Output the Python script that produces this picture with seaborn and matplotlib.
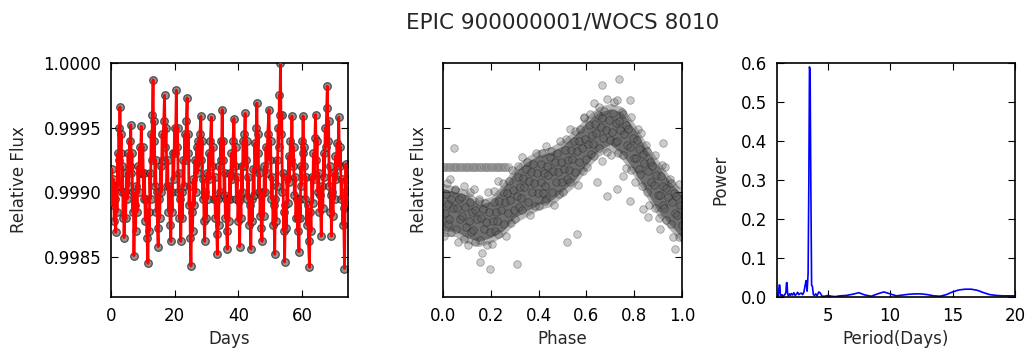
import numpy as np
import pandas as pd
import matplotlib
matplotlib.use("Agg")
import matplotlib.pyplot as plt
import seaborn as sns

# ---------------- data ----------------
title = "EPIC 900000001/WOCS 8010"

# light curve: time (days) and relative flux in units of 1e-5
days = [
    0.0, 0.25, 0.5, 0.75, 1.0, 1.25, 1.5,
    1.7, 1.9, 2.1, 2.3, 2.5, 2.65, 2.8,
    3.0, 3.2, 3.4, 3.6, 3.8, 3.95, 4.1,
    4.35, 4.6, 4.85, 5.1, 5.35, 5.6, 5.85, 6.0, 6.2,
    6.4, 6.6, 6.8, 7.0, 7.2,
    7.45, 7.7, 7.95, 8.2, 8.45, 8.7, 8.95, 9.2, 9.5,
    9.75, 10.0, 10.25, 10.5, 10.75, 11.0, 11.3, 11.6,
    11.8, 12.0, 12.2, 12.4, 12.6, 12.8, 13.0, 13.2,
    13.4, 13.6, 13.8, 14.0, 14.2, 14.4, 14.6, 14.8,
    15.05, 15.3, 15.55, 15.8, 16.05, 16.3, 16.55, 16.8,
    17.05, 17.3, 17.55, 17.8, 18.05, 18.3, 18.55, 18.8,
    19.0, 19.2, 19.45, 19.7, 19.95, 20.2, 20.5,
    20.7, 20.9, 21.1, 21.3, 21.5, 21.7, 21.9,
    22.15, 22.4, 22.65, 22.9, 23.15, 23.4, 23.65, 23.9,
    24.1, 24.3, 24.5, 24.7, 24.9, 25.1,
    25.35, 25.6, 25.85, 26.1, 26.35, 26.6, 26.85, 27.1, 27.35, 27.6, 27.9, 28.2,
    28.4, 28.6, 28.8, 29.0, 29.2, 29.4,
    29.65, 29.9, 30.15, 30.4, 30.65, 30.9, 31.2, 31.5,
    31.75, 32.0, 32.25, 32.5, 32.75, 33.0, 33.2, 33.4,
    33.6, 33.8, 34.0, 34.2, 34.45, 34.65, 34.9,
    35.1, 35.3, 35.5, 35.7, 35.9, 36.1, 36.3, 36.5,
    36.75, 37.0, 37.25, 37.5, 37.75, 38.0, 38.3, 38.6,
    38.85, 39.1, 39.35, 39.6, 39.85, 40.1, 40.4,
    40.6, 40.8, 41.0, 41.2, 41.45, 41.7, 41.9, 42.1,
    42.35, 42.6, 42.85, 43.1, 43.35, 43.6, 43.9,
    44.15, 44.4, 44.65, 44.9, 45.15, 45.4, 45.6, 45.8,
    46.0, 46.2, 46.4, 46.6, 46.8, 47.0, 47.2, 47.4,
    47.65, 47.9, 48.15, 48.4, 48.65, 48.9, 49.2, 49.6,
    49.85, 50.1, 50.35, 50.6, 50.85, 51.1, 51.4,
    51.6, 51.8, 52.0, 52.2, 52.45, 52.65, 52.85, 53.0, 53.2,
    53.4, 53.6, 53.8, 54.0, 54.2, 54.35, 54.5,
    54.75, 55.0, 55.25, 55.5, 55.75, 56.0, 56.3, 56.55, 56.8,
    57.05, 57.3, 57.55, 57.8, 58.05, 58.3, 58.55, 58.8, 59.0,
    59.2, 59.4, 59.6, 59.8, 60.0, 60.15, 60.3,
    60.5, 60.7, 60.95, 61.2, 61.45, 61.7, 62.0, 62.3,
    62.55, 62.8, 63.05, 63.3, 63.55, 63.8, 64.0, 64.2,
    64.45, 64.7, 64.95, 65.2, 65.45, 65.7, 66.0,
    66.25, 66.5, 66.75, 67.0, 67.25, 67.5, 67.7, 67.9,
    68.1, 68.3, 68.5, 68.7, 68.9, 69.05, 69.2,
    69.45, 69.7, 69.95, 70.2, 70.45, 70.7, 70.95, 71.2, 71.5,
    71.75, 72.0, 72.25, 72.5, 72.75, 73.0, 73.3,
    73.55, 73.75, 74.0, 74.2, 74.4]
flux_e5 = [
    99898, 99918, 99890, 99910, 99878, 99895, 99869,
    99905, 99885, 99930, 99905, 99950, 99925, 99966,
    99930, 99945, 99900, 99920, 99880, 99900, 99865,
    99900, 99880, 99915, 99895, 99930, 99905, 99940, 99920, 99952,
    99915, 99930, 99885, 99900, 99851,
    99890, 99870, 99905, 99885, 99920, 99900, 99935, 99915, 99951,
    99915, 99935, 99895, 99915, 99878, 99895, 99865, 99845,
    99885, 99870, 99915, 99895, 99945, 99925, 99960, 99987,
    99940, 99955, 99905, 99925, 99885, 99900, 99872, 99858,
    99895, 99880, 99920, 99900, 99945, 99925, 99955, 99975,
    99935, 99950, 99905, 99925, 99885, 99905, 99875, 99862,
    99900, 99885, 99930, 99910, 99950, 99930, 99979,
    99935, 99950, 99900, 99915, 99880, 99895, 99862,
    99900, 99880, 99925, 99905, 99945, 99925, 99955, 99973,
    99930, 99945, 99890, 99905, 99865, 99843,
    99885, 99870, 99910, 99890, 99925, 99900, 99935, 99915, 99940, 99920, 99945, 99959,
    99925, 99940, 99895, 99910, 99878, 99862,
    99900, 99880, 99915, 99895, 99930, 99910, 99940, 99958,
    99920, 99935, 99895, 99912, 99880, 99895, 99868, 99852,
    99895, 99875, 99920, 99900, 99940, 99925, 99964,
    99925, 99940, 99898, 99915, 99880, 99895, 99870, 99856,
    99895, 99878, 99915, 99895, 99930, 99910, 99940, 99957,
    99920, 99935, 99895, 99912, 99878, 99893, 99858,
    99898, 99880, 99920, 99900, 99940, 99920, 99945, 99961,
    99925, 99940, 99895, 99912, 99875, 99890, 99856,
    99895, 99878, 99918, 99898, 99938, 99918, 99950, 99969,
    99930, 99945, 99900, 99915, 99882, 99898, 99872, 99862,
    99900, 99882, 99920, 99900, 99935, 99915, 99945, 99964,
    99925, 99940, 99895, 99912, 99875, 99890, 99852,
    99895, 99878, 99925, 99905, 99950, 99935, 99975, 99960, 100000,
    99945, 99960, 99900, 99915, 99870, 99885, 99846,
    99890, 99872, 99912, 99892, 99928, 99908, 99940, 99925, 99959,
    99920, 99935, 99898, 99912, 99880, 99895, 99870, 99880, 99854,
    99895, 99880, 99920, 99905, 99940, 99930, 99959,
    99920, 99935, 99895, 99912, 99875, 99890, 99862, 99842,
    99885, 99870, 99912, 99892, 99930, 99910, 99942, 99960,
    99925, 99940, 99900, 99915, 99885, 99898, 99866,
    99905, 99888, 99930, 99912, 99950, 99935, 99965, 99982,
    99940, 99955, 99905, 99920, 99885, 99898, 99866,
    99900, 99882, 99915, 99895, 99928, 99910, 99938, 99922, 99958,
    99920, 99935, 99895, 99910, 99875, 99888, 99841,
    99900, 99922, 99890, 99910, 99902]

# phase-folded points: phase in thousandths, flux in ppm relative to 0.999
phase_milli = [
    3, 19, 8, 22, 12, 15, 32, 26, 41, 35, 49, 30, 64, 54, 71, 59, 67, 52,
    86, 98, 81, 93, 75, 88, 103, 119, 108, 122, 112, 115, 132, 126, 141, 135, 149, 130,
    164, 154, 171, 159, 167, 152, 186, 198, 181, 193, 175, 188, 203, 219, 208, 222, 212, 215,
    232, 226, 241, 235, 249, 230, 264, 254, 271, 259, 267, 252, 286, 298, 281, 293, 275, 288,
    303, 319, 308, 322, 312, 315, 332, 326, 341, 335, 349, 330, 364, 354, 371, 359, 367, 352,
    386, 398, 381, 393, 375, 388, 403, 419, 408, 422, 412, 415, 432, 426, 441, 435, 449, 430,
    464, 454, 471, 459, 467, 452, 486, 498, 481, 493, 475, 488, 503, 519, 508, 522, 512, 515,
    532, 526, 541, 535, 549, 530, 564, 554, 571, 559, 567, 552, 586, 598, 581, 593, 575, 588,
    603, 619, 608, 622, 612, 615, 632, 626, 641, 635, 649, 630, 664, 654, 671, 659, 667, 652,
    686, 698, 681, 693, 675, 688, 703, 719, 708, 722, 712, 715, 732, 726, 741, 735, 749, 730,
    764, 754, 771, 759, 767, 752, 786, 798, 781, 793, 775, 788, 803, 819, 808, 822, 812, 815,
    832, 826, 841, 835, 849, 830, 864, 854, 871, 859, 867, 852, 886, 898, 881, 893, 875, 888,
    903, 919, 908, 922, 912, 915, 932, 926, 941, 935, 949, 930, 964, 954, 971, 959, 967, 952,
    986, 998, 981, 993, 975, 988,
    47, 197, 155, 308, 517, 559, 427, 590, 664, 738, 782, 685, 727, 782, 859, 922, 971, 838,
    643, 754, 908]
phase_ppm = [
    -342, -242, -162, -92, -17, 68, -304, -209, -124, -54, 16, 106, -386, -286, -206, -121, -51, 29,
    -360, -265, -185, -110, -40, 50, -404, -304, -224, -154, -79, 6, -388, -293, -208, -138, -68, 22,
    -466, -366, -286, -201, -131, -51, -404, -309, -229, -154, -84, 6, -399, -299, -219, -149, -74, 11,
    -320, -225, -140, -70, 0, 90, -342, -242, -162, -77, -7, 73, -234, -139, -59, 16, 86, 176,
    -210, -110, -30, 40, 115, 200, -138, -43, 42, 112, 182, 272, -179, -79, 1, 86, 156, 236,
    -103, -8, 72, 147, 217, 307, -104, -4, 76, 146, 221, 306, -50, 45, 130, 200, 270, 360,
    -98, 2, 82, 167, 237, 317, -15, 80, 160, 235, 305, 395, 1, 101, 181, 251, 326, 411,
    80, 175, 260, 330, 400, 490, 58, 158, 238, 323, 393, 473, 166, 261, 341, 416, 486, 576,
    196, 296, 376, 446, 521, 606, 280, 375, 460, 530, 600, 690, 241, 341, 421, 506, 576, 656,
    310, 405, 485, 560, 630, 720, 288, 388, 468, 538, 613, 698, 304, 399, 484, 554, 624, 714,
    189, 289, 369, 454, 524, 604, 173, 268, 348, 423, 493, 583, 82, 182, 262, 332, 407, 492,
    45, 140, 225, 295, 365, 455, -98, 2, 82, 167, 237, 317, -118, -23, 57, 132, 202, 292,
    -201, -101, -21, 49, 124, 209, -218, -123, -38, 32, 102, 192, -344, -244, -164, -79, -9, 71,
    -348, -253, -173, -98, -28, 62,
    346, -592, -538, -554, -385, -323, -69, 585, 831, 877, 715, -31, 23, -69, -192, 385, -438, -131,
    77, 123, -285]

# dense core of the phase cloud (phase in thousandths, ppm relative to 0.999)
core_milli = [0, 50, 100, 150, 200, 250, 300, 350, 400, 450, 500,
              550, 600, 650, 700, 750, 800, 850, 900, 950, 1000]
outer_hi = [70, 44, 19, -59, -33, 70, 199, 276, 328, 353, 405, 482, 585, 662, 688, 662, 534, 379, 250, 121, 19]
outer_lo = [-342, -342, -393, -420, -393, -342, -239, -188, -136, -110, -33, 44, 173, 276, 328, 250, 121, -33, -188, -291, -393]
inner_hi = [30, 5, -20, -95, -70, 30, 155, 235, 285, 310, 360, 440, 540, 620, 645, 620, 490, 335, 205, 80, -20]
inner_lo = [-300, -300, -350, -380, -350, -300, -195, -145, -95, -70, 10, 90, 215, 320, 370, 295, 165, 10, -145, -250, -350]

# flat strip of points seen at the start of the phase plot
strip_milli = [0, 10, 20, 30, 40, 50, 60, 70, 80, 90, 100, 110, 120, 130, 140,
               150, 160, 170, 180, 190, 200, 210, 220, 230, 240, 250, 260, 270]
strip_ppm = [192] * len(strip_milli)

# periodogram (period in days, power)
period = [0.95, 0.99, 1.03, 1.08, 1.13, 1.18, 1.22, 1.28, 1.35, 1.42, 1.50, 1.58, 1.66,
          1.71, 1.75, 1.80, 1.86, 1.94, 2.02, 2.10, 2.20, 2.30, 2.40, 2.50, 2.60, 2.70,
          2.80, 2.90, 3.00, 3.10, 3.20, 3.28, 3.36, 3.44, 3.50, 3.55, 3.60, 3.66, 3.72,
          3.78, 3.86, 3.95, 4.05, 4.15, 4.30, 4.42, 4.55, 4.8, 5.0, 5.3, 5.6, 6.0, 6.5,
          7.0, 7.5, 8.0, 8.5, 9.0, 9.5, 10.0, 10.5, 11.0, 11.5, 12.0, 12.5, 13.0, 13.5,
          14.0, 14.5, 15.0, 15.5, 16.0, 16.5, 17.0, 17.5, 18.0, 18.5, 19.0, 20.0]
power = [0.002, 0.004, 0.003, 0.012, 0.031, 0.030, 0.004, 0.003, 0.006, 0.002, 0.004,
         0.006, 0.012, 0.036, 0.037, 0.008, 0.003, 0.008, 0.004, 0.009, 0.005, 0.011,
         0.004, 0.007, 0.012, 0.006, 0.009, 0.010, 0.006, 0.012, 0.030, 0.042, 0.015,
         0.060, 0.300, 0.590, 0.580, 0.280, 0.030, 0.028, 0.006, 0.004, 0.008, 0.003,
         0.013, 0.010, 0.002, 0.002, 0.004, 0.002, 0.001, 0.003, 0.004, 0.007, 0.011,
         0.005, 0.002, 0.008, 0.013, 0.008, 0.003, 0.005, 0.007, 0.008, 0.008, 0.006,
         0.003, 0.002, 0.006, 0.013, 0.018, 0.020, 0.020, 0.017, 0.011, 0.006, 0.004,
         0.003, 0.003]

# ---------------- style ----------------
sns.set_style("ticks")
plt.rcParams.update({
    "font.family": ["DejaVu Sans"],
    "font.size": 12,
    "xtick.direction": "in", "ytick.direction": "in",
    "xtick.top": True, "ytick.right": True,
    "xtick.major.size": 5, "ytick.major.size": 5,
    "xtick.major.width": 0.8, "ytick.major.width": 0.8,
    "xtick.major.pad": 7, "ytick.major.pad": 7,
    "axes.linewidth": 1.2, "axes.edgecolor": "black",
    "xtick.color": "black", "ytick.color": "black",
    "xtick.labelsize": 12, "ytick.labelsize": 12, "axes.labelsize": 12,
})

fig = plt.figure(figsize=(10.28, 3.52), dpi=100)
W, H = 1028.0, 352.0
ax1 = fig.add_axes([111 / W, (H - 297) / H, 237 / W, 234 / H])
ax2 = fig.add_axes([443 / W, (H - 297) / H, 239 / W, 234 / H])
ax3 = fig.add_axes([777 / W, (H - 297) / H, 238 / W, 234 / H])

# ---- panel 1: light curve ----
lc = pd.DataFrame({"Days": days, "Flux": np.array(flux_e5) / 1e5})
sns.scatterplot(data=lc, x="Days", y="Flux", ax=ax1, color="0.4", edgecolor="0.1",
                linewidth=0.9, s=30, alpha=0.7, zorder=2)
sns.lineplot(data=lc, x="Days", y="Flux", ax=ax1, color="red", lw=2.0, sort=False,
             estimator=None, zorder=3)
ax1.set_xlim(0, 74.4)
ax1.set_ylim(0.99819, 1.0)
ax1.set_yticks([0.9985, 0.9990, 0.9995, 1.0000])
ax1.set_yticklabels(["0.9985", "0.9990", "0.9995", "1.0000"])
ax1.set_xticks([0, 20, 40, 60])
ax1.set_xlabel("Days")
ax1.set_ylabel("Relative Flux", labelpad=11)

# ---- panel 2: phase-folded ----
cph = np.array(core_milli) / 1000.0
ax2.fill_between(cph, 0.999 + np.array(outer_lo) * 1e-6, 0.999 + np.array(outer_hi) * 1e-6,
                 color="0.3", alpha=0.4, lw=0)
ax2.fill_between(cph, 0.999 + np.array(inner_lo) * 1e-6, 0.999 + np.array(inner_hi) * 1e-6,
                 color="0.25", alpha=0.6, lw=0)
ph = pd.DataFrame({"Phase": np.array(phase_milli) / 1000.0,
                   "Flux": 0.999 + np.array(phase_ppm) * 1e-6})
st = pd.DataFrame({"Phase": np.array(strip_milli) / 1000.0,
                   "Flux": 0.999 + np.array(strip_ppm) * 1e-6})
sns.scatterplot(data=st, x="Phase", y="Flux", ax=ax2, color="0.5", edgecolor="0.4",
                linewidth=0.6, s=34, alpha=0.4)
sns.scatterplot(data=ph, x="Phase", y="Flux", ax=ax2, color="0.35", edgecolor="black",
                linewidth=0.6, s=30, alpha=0.3)
ax2.set_xlim(0, 1)
ax2.set_ylim(0.99819, 1.0)
ax2.set_yticks([0.9985, 0.9990, 0.9995])
ax2.set_yticklabels([])
ax2.set_xticks([0.0, 0.2, 0.4, 0.6, 0.8, 1.0])
ax2.set_xticklabels(["0.0", "0.2", "0.4", "0.6", "0.8", "1.0"])
ax2.set_xlabel("Phase")
ax2.set_ylabel("Relative Flux")

# ---- panel 3: periodogram ----
pg = pd.DataFrame({"Period": period, "Power": power})
sns.lineplot(data=pg, x="Period", y="Power", ax=ax3, color="blue", lw=1.2,
             estimator=None, sort=False)
ax3.set_xlim(0.95, 20)
ax3.set_ylim(0, 0.6)
ax3.set_xticks([5, 10, 15, 20])
ax3.set_yticks([0.0, 0.1, 0.2, 0.3, 0.4, 0.5, 0.6])
ax3.set_yticklabels(["0.0", "0.1", "0.2", "0.3", "0.4", "0.5", "0.6"])
ax3.set_xlabel("Period(Days)")
ax3.set_ylabel("Power", labelpad=8)

for ax in (ax1, ax2, ax3):
    for sp in ax.spines.values():
        sp.set_visible(True)
        sp.set_linewidth(1.2)

fig.text(562.5 / W, 1 - 22 / H, title, fontsize=15.5, ha="center", va="center")
fig.savefig("out.png", dpi=100)
